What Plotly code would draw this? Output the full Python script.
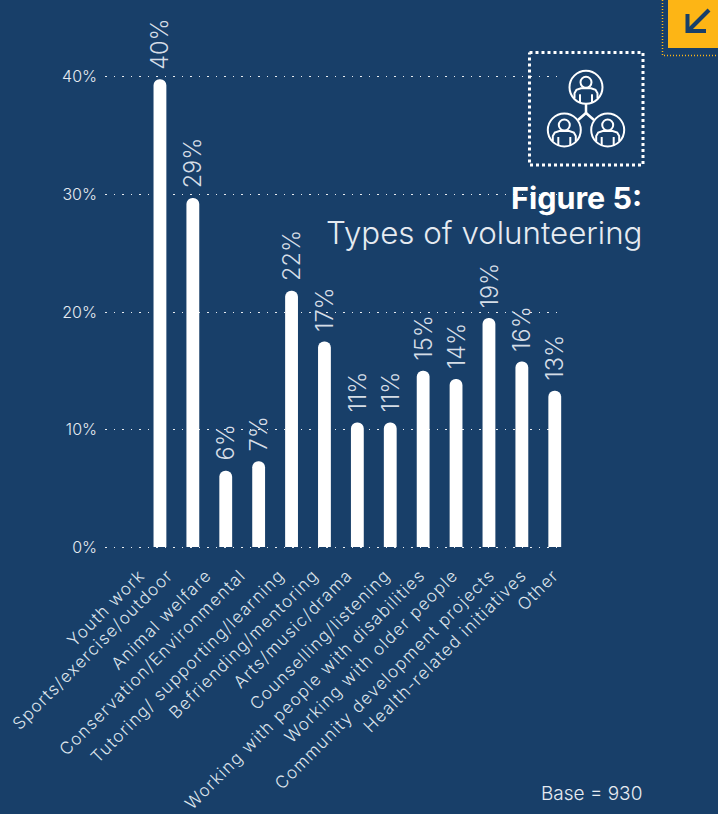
import plotly.graph_objects as go

categories = ["Youth work", "Sports/exercise/outdoor", "Animal welfare", "Conservation/Environmental",
              "Tutoring/ supporting/learning", "Befriending/mentoring", "Arts/music/drama",
              "Counselling/listening", "Working with people with disabilities", "Working with older people",
              "Community development projects", "Health-related initiatives", "Other"]
values = [39.8, 29.7, 6.5, 7.3, 21.8, 17.5, 10.6, 10.6, 15.0, 14.3, 19.5, 15.8, 13.3]
labels = ["40%", "29%", "6%", "7%", "22%", "17%", "11%", "11%", "15%", "14%", "19%", "16%", "13%"]
tick_shift = [-0.61, -0.76, -0.58, -0.55, -0.36, -0.33, -0.30, -0.15, -0.09, -0.09, 0.03, 0.0, -0.03]
y_ticks = [0, 10, 20, 30, 40]
y_tick_labels = ["0%", "10%", "20%", "30%", "40%"]

W, H = 718, 814
NAVY = "#183F69"
ORANGE = "#FDB515"
FONT = "Inter"
L, R, T, B = 105, 156, 71, 261
positions = list(range(len(categories)))


def px(x):
    return (x - L) / (W - L - R)


def py(y):
    return 1 - (y - T) / (H - T - B)


fig = go.Figure(go.Bar(
    x=positions, y=values, width=0.39, marker=dict(color="white", line_width=0),
    cliponaxis=False, hoverinfo="skip"))

shapes = []


def seg(pts, color="white", width=2, dash=None):
    d = "M" + " L".join(f"{px(x):.5f},{py(y):.5f}" for x, y in pts)
    shapes.append(dict(type="path", xref="paper", yref="paper", path=d, layer="above",
                       line=dict(color=color, width=width, dash=dash)))


def circ(cx, cy, r, width=2):
    shapes.append(dict(type="circle", xref="paper", yref="paper", layer="above",
                       x0=px(cx - r), x1=px(cx + r), y0=py(cy + r), y1=py(cy - r),
                       line=dict(color="white", width=width)))


# corner tab
shapes.append(dict(type="rect", xref="paper", yref="paper", x0=px(668), x1=px(720), y0=py(48), y1=py(-2),
                   fillcolor=ORANGE, line_width=0, layer="above"))
seg([(662.5, 0), (662.5, 55.5), (718, 55.5)], ORANGE, 1.5, "1px,2px")
seg([(709, 10), (688, 31)], NAVY, 4)
seg([(687.5, 14), (687.5, 31), (706, 31)], NAVY, 4)

# icon frame
seg([(529.5, 52.5), (643, 52.5), (643, 165), (529.5, 165), (529.5, 52.5)], "white", 3, "3px,3px")

# icon people
for cx, cy in [(586, 87.3), (564.3, 130), (607.7, 130)]:
    circ(cx, cy, 16.5)
    circ(cx, cy - 5, 5.5)
    pts = [(-11.5, 11), (-11.5, 6), (-9.5, 2.5), (-5, 1), (5, 1), (9.5, 2.5), (11.5, 6), (11.5, 11)]
    seg([(cx + a, cy + b) for a, b in pts])
    seg([(cx - 6, cy + 7), (cx - 6, cy + 15)])
    seg([(cx + 6, cy + 7), (cx + 6, cy + 15)])
seg([(586, 104), (586, 113)], "white", 2.5)
seg([(578, 120), (586, 113), (594, 120)], "white", 2.5)


def note(text, x, y, size, weight=400, color="white"):
    return dict(text=text, xref="paper", yref="paper", x=px(x), y=py(y),
                xanchor="right", yanchor="middle", showarrow=False,
                font=dict(family=FONT, size=size, color=color, weight=weight))


value_notes = [dict(x=p, y=v, text=t, textangle=-90, xref="x", yref="y", showarrow=False,
                    xanchor="center", yanchor="bottom", yshift=8,
                    font=dict(family=FONT, size=23.5, color="#D5DDE6", weight=300))
               for p, v, t in zip(positions, values, labels)]

fig.update_layout(
    width=W, height=H, autosize=False, paper_bgcolor=NAVY, plot_bgcolor=NAVY, showlegend=False,
    margin=dict(l=L, r=R, t=T, b=B, pad=0), barcornerradius=6, shapes=shapes,
    xaxis=dict(range=[-1.67, 12.22], tickmode="array", tickvals=[p + s for p, s in zip(positions, tick_shift)],
               ticktext=categories, tickangle=-45, showgrid=False, zeroline=False, showline=False,
               ticks="", ticklabelstandoff=8,
               tickfont=dict(family=FONT, size=17, color="#DDE4EC", weight=300)),
    yaxis=dict(range=[-0.5, 40.5], tickmode="array", tickvals=y_ticks, ticktext=y_tick_labels, showgrid=True,
               gridcolor="rgba(255,255,255,0.9)", gridwidth=1, griddash="1.5px,7px", zeroline=False,
               showline=False, ticks="", ticklabelstandoff=7,
               tickfont=dict(family=FONT, size=16, color="#E6EBF1", weight=300)),
    annotations=value_notes + [
        note("Figure 5:", 644, 198, 30.5, weight=700),
        note("Types of volunteering", 644, 233, 31.3, weight=300, color="#E6EBF1"),
        note("Base = 930", 644, 793, 19, weight=300, color="#E6EBF1"),
    ],
)
fig.write_html(
    "out.html",
    config={"displayModeBar": False},
    post_script=(
        "document.body.style.margin='0';document.body.style.background='#183F69';"
        "var s=document.createElement('style');s.textContent='.xtick text{letter-spacing:1.2px}';"
        "document.head.appendChild(s);"
    ),
)
